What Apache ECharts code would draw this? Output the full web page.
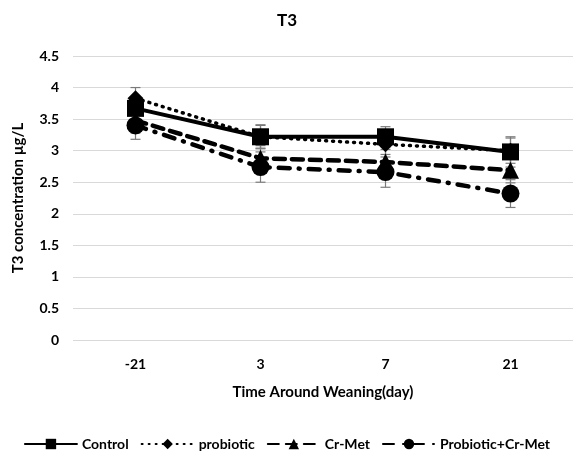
<!DOCTYPE html>
<html>
<head>
<meta charset="utf-8">
<script src="https://cdn.jsdelivr.net/npm/echarts@6/dist/echarts.min.js"></script>
<style>html,body{margin:0;padding:0;background:#fff}#c{width:574px;height:462px}</style>
</head>
<body>
<div id="c"></div>
<script>
var categories = ['-21', '3', '7', '21'];
var yTicks = [0, 0.5, 1, 1.5, 2, 2.5, 3, 3.5, 4, 4.5];
var control = [3.67, 3.22, 3.22, 2.98];
var probiotic = [3.83, 3.22, 3.10, 3.00];
var crMet = [3.48, 2.88, 2.82, 2.69];
var probioticCrMet = [3.40, 2.74, 2.66, 2.32];
var controlSD = [0.18, 0.19, 0.16, 0.24];
var probioticSD = [0.17, 0.18, 0.16, 0.20];
var crMetSD = [0.20, 0.20, 0.20, 0.20];
var probioticCrMetSD = [0.22, 0.24, 0.24, 0.22];

var FONT = 'Lato';
var chart = echarts.init(document.getElementById('c'));

function errData(vals, sds) {
  return vals.map(function (v, i) { return [i, v - sds[i], v + sds[i]]; });
}
function errSeries(vals, sds) {
  return {
    type: 'custom',
    silent: true,
    z: 1,
    data: errData(vals, sds),
    renderItem: function (params, api) {
      var lo = api.coord([api.value(0), api.value(1)]);
      var hi = api.coord([api.value(0), api.value(2)]);
      var w = 5;
      var st = { stroke: '#7a7a7a', lineWidth: 1.2 };
      return {
        type: 'group',
        children: [
          { type: 'line', shape: { x1: lo[0], y1: lo[1], x2: hi[0], y2: hi[1] }, style: st },
          { type: 'line', shape: { x1: lo[0] - w, y1: lo[1], x2: lo[0] + w, y2: lo[1] }, style: st },
          { type: 'line', shape: { x1: hi[0] - w, y1: hi[1], x2: hi[0] + w, y2: hi[1] }, style: st }
        ]
      };
    }
  };
}

function lineSeries(name, data, symbol, size, lineType, width) {
  return {
    name: name,
    type: 'line',
    data: data,
    symbol: symbol,
    symbolSize: size,
    z: 3,
    itemStyle: { color: '#000' },
    lineStyle: { color: '#000', width: width, type: lineType, cap: 'round' }
  };
}

chart.setOption({
  animation: false,
  title: {
    text: 'T3', left: 'center', top: 7,
    textStyle: { fontFamily: FONT, fontSize: 17, fontWeight: 'bold', color: '#000' }
  },
  legend: {
    bottom: 6, left: 'center', itemWidth: 52, itemHeight: 13, itemGap: 12,
    textStyle: { fontFamily: FONT, fontSize: 14, fontWeight: 'bold', color: '#000' },
    data: ['Control', 'probiotic', 'Cr-Met', 'Probiotic+Cr-Met']
  },
  grid: { left: 73, right: 1, top: 56, bottom: 122 },
  xAxis: {
    type: 'category', data: categories, boundaryGap: true,
    axisLine: { show: false }, axisTick: { show: false },
    axisLabel: { fontFamily: FONT, fontSize: 14, fontWeight: 'bold', color: '#000', margin: 17 },
    name: 'Time Around Weaning(day)', nameLocation: 'middle', nameGap: 45,
    nameTextStyle: { fontFamily: FONT, fontSize: 15, fontWeight: 'bold', color: '#000' }
  },
  yAxis: {
    type: 'value', min: 0, max: 4.5, interval: 0.5,
    axisLine: { show: false }, axisTick: { show: false },
    splitLine: { lineStyle: { color: '#d9d9d9', width: 1 } },
    axisLabel: { fontFamily: FONT, fontSize: 14, fontWeight: 'bold', color: '#000', margin: 14,
      formatter: function (v) { return yTicks.indexOf(v) >= 0 ? String(v) : ''; } },
    name: 'T3 concentration µg/L', nameLocation: 'middle', nameGap: 47,
    nameTextStyle: { fontFamily: FONT, fontSize: 15, fontWeight: 'bold', color: '#000' }
  },
  series: [
    errSeries(control, controlSD),
    errSeries(probiotic, probioticSD),
    errSeries(crMet, crMetSD),
    errSeries(probioticCrMet, probioticCrMetSD),
    lineSeries('Control', control, 'rect', 17, 'solid', 4),
    lineSeries('probiotic', probiotic, 'diamond', 16, [1, 6], 3.5),
    lineSeries('Cr-Met', crMet, 'triangle', 17, [11, 7], 4.5),
    lineSeries('Probiotic+Cr-Met', probioticCrMet, 'circle', 18, [11, 9, 1, 9], 4.5)
  ]
});
</script>
</body>
</html>
